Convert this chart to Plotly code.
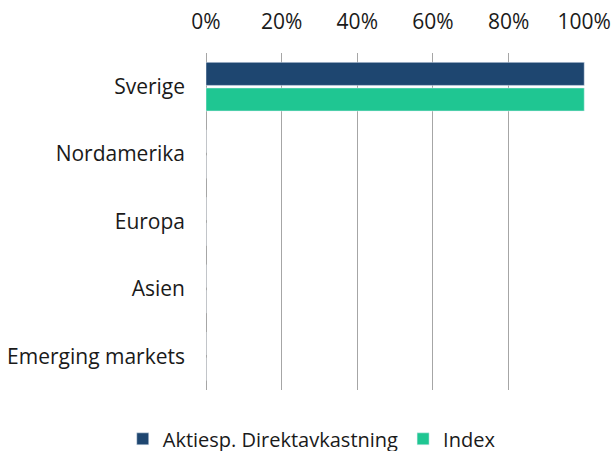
import plotly.graph_objs as go

# ---------------------------------------------------------------------------
# Data
# ---------------------------------------------------------------------------

regions = ['Sverige', 'Nordamerika', 'Europa', 'Asien', 'Emerging markets']
fund_share = [1.0, 0.0, 0.0, 0.0, 0.0]
index_share = [1.0, 0.0, 0.0, 0.0, 0.0]
tick_vals = [0, 0.2, 0.4, 0.6, 0.8, 1.0]
tick_text = ['0%', '20%', '40%', '60%', '80%', '100%']

FONT = 'Open Sans, sans-serif'
GRID = '#a6a6a6'

fig = go.Figure()
fig.add_trace(go.Bar(
    y=regions, x=fund_share, orientation='h',
    name='Aktiesp. Direktavkastning', marker_color='#1e4670',
))
fig.add_trace(go.Bar(
    y=regions, x=index_share, orientation='h',
    name='Index', marker_color='#1fc692',
))

fig.update_layout(
    width=614, height=451,
    margin=dict(l=206, r=29, t=53, b=61),
    paper_bgcolor='white', plot_bgcolor='white',
    font=dict(family=FONT, size=21, color='#1a1a1a'),
    barmode='group', bargap=0.24, bargroupgap=0.1,
    showlegend=True,
    legend=dict(orientation='h', xref='paper', x=0.279, xanchor='center',
                yref='container', y=0.027, yanchor='middle',
                font=dict(size=20), traceorder='normal'),
)
fig.update_xaxes(
    side='top', range=[0, 1.002], tickvals=tick_vals, ticktext=tick_text,
    tickfont=dict(size=21),
    showgrid=True, gridcolor=GRID, gridwidth=1,
    zeroline=True, zerolinecolor=GRID, zerolinewidth=1,
    showline=False, ticks='', ticklabelstandoff=19, ticklabeloverflow='allow',
    automargin=False,
)
fig.update_yaxes(
    autorange='reversed', showgrid=False, showline=False, ticks='',
    tickfont=dict(size=21),
    ticklabelstandoff=20, automargin=False,
)

# drop the default 8px body margin so the figure fills the window exactly
fig.write_html("out.html", config={'displayModeBar': False},
               post_script="document.body.style.margin = '0';")
